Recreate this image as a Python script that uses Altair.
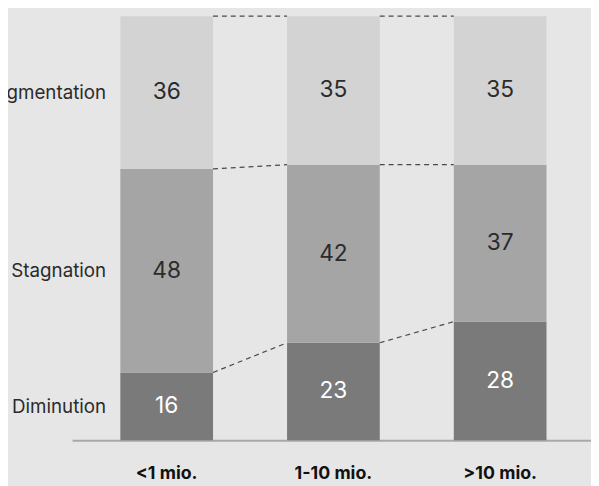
import altair as alt
import pandas as pd

categories = ["<1 mio.", "1-10 mio.", ">10 mio."]
groups = ["Diminution", "Stagnation", "Augmentation"]
diminution = [16, 23, 28]
stagnation = [48, 42, 37]
augmentation = [36, 35, 35]

colors = ["#7a7a7a", "#a5a5a5", "#d3d3d3"]
text_colors = ["#ffffff", "#2b2b2b", "#2b2b2b"]

series = [diminution, stagnation, augmentation]
rows = []
for ci, cat in enumerate(categories):
    base = 0
    for gi, g in enumerate(groups):
        v = series[gi][ci]
        rows.append(dict(cat=cat, group=g, value=v, y0=base, y1=base + v,
                         mid=base + v / 2, tcolor=text_colors[gi]))
        base += v
bars_df = pd.DataFrame(rows)

conn = []
for ci in range(len(categories) - 1):
    for g in groups:
        a = bars_df[(bars_df.cat == categories[ci]) & (bars_df.group == g)].y1.iloc[0]
        b = bars_df[(bars_df.cat == categories[ci + 1]) & (bars_df.group == g)].y1.iloc[0]
        conn.append(dict(c_from=categories[ci], c_to=categories[ci + 1], ya=a, yb=b))
conn_df = pd.DataFrame(conn)

# left labels at the middle of the first bar's segments
first = bars_df[bars_df.cat == categories[0]]
label_vals = list(first.mid)
label_expr = " : ".join(
    f"datum.value == {m} ? '{g}'" for m, g in zip(first.mid, first.group)
) + " : ''"

FONT = "Inter"

xscale = alt.Scale(domain=categories, paddingInner=0.444, paddingOuter=0.278, align=0.52)
yscale = alt.Scale(domain=[0, 100], nice=False)

xaxis = alt.Axis(labelFont=FONT, labelFontWeight="bold", labelFontSize=18,
                 labelColor="#111111", labelPadding=25, ticks=False,
                 domainColor="#a8a8a8", domainWidth=2, labelAngle=0)
yaxis = alt.Axis(values=label_vals, labelExpr=label_expr, grid=False,
                 ticks=False, domain=False, offset=-34, labelPadding=0,
                 labelFont=FONT, labelFontSize=19, labelColor="#2b2b2b")

bars = alt.Chart(bars_df).mark_bar().encode(
    x=alt.X("cat:N", scale=xscale, sort=categories, title=None, axis=xaxis),
    y=alt.Y("y0:Q", scale=yscale, title=None, axis=yaxis),
    y2="y1:Q",
    color=alt.Color("group:N", scale=alt.Scale(domain=groups, range=colors), legend=None),
)

texts = alt.Chart(bars_df).mark_text(font=FONT, fontSize=23, baseline="middle").encode(
    x=alt.X("cat:N", scale=xscale, sort=categories, title=None, axis=xaxis),
    y=alt.Y("mid:Q", scale=yscale, title=None, axis=yaxis),
    text="value:Q",
    color=alt.Color("tcolor:N", scale=None),
)

lines = alt.Chart(conn_df).mark_rule(strokeDash=[5, 4], color="#4a4a4a", strokeWidth=1.2).encode(
    x=alt.X("c_from:N", scale=xscale, sort=categories, bandPosition=1, title=None, axis=xaxis),
    x2=alt.X2("c_to", bandPosition=0),
    y=alt.Y("ya:Q", scale=yscale, title=None, axis=yaxis),
    y2="yb:Q",
)

chart = alt.layer(bars, lines, texts).properties(
    width=526,
    height=430,
    padding={"left": 65, "top": 5, "right": 0, "bottom": 43},
    autosize=alt.AutoSizeParams(type="none"),
    background="#e6e6e6",
).configure_view(stroke=None)

chart.save("out.html", embed_options={"renderer": "svg", "actions": False})
